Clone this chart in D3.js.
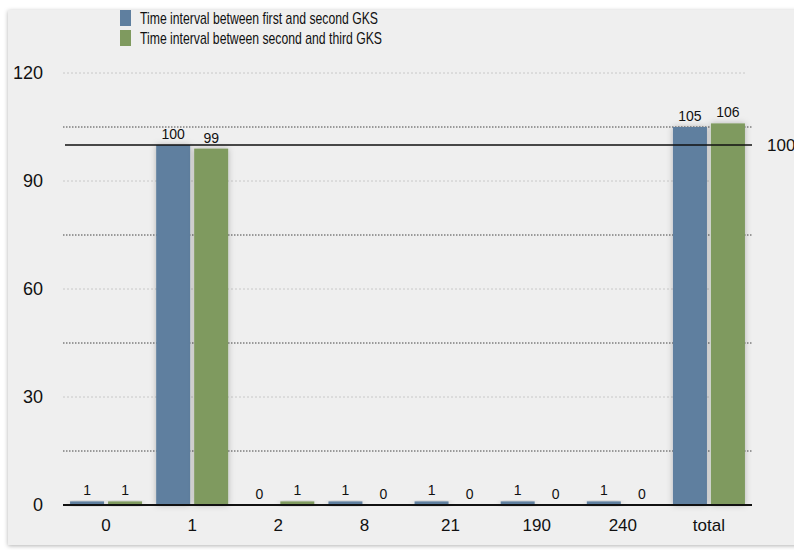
<!DOCTYPE html>
<html><head><meta charset="utf-8">
<script src="https://cdn.jsdelivr.net/npm/d3@7"></script>
<style>body{margin:0;background:#fff;}svg{display:block;}</style>
</head><body>
<script>
const categories = ["0","1","2","8","21","190","240","total"];
const seriesNames = ["Time interval between first and second GKS","Time interval between second and third GKS"];
const firstSecond = [1,100,0,1,1,1,1,105];
const secondThird = [1,99,1,0,0,0,0,106];
const yTicks = [0,30,60,90,120];
const minorTicks = [15,45,75,105];
const refValue = 100;
const colors = ["#5f7f9f","#7f9a5f"];

const W=794,H=550;
const svg=d3.select("body").append("svg").attr("width",W).attr("height",H);
const defs=svg.append("defs");
const f=defs.append("filter").attr("id","sh").attr("x","-30%").attr("y","-30%").attr("width","160%").attr("height","160%");
f.append("feDropShadow").attr("dx",0).attr("dy",0).attr("stdDeviation",3).attr("flood-color","#000").attr("flood-opacity",0.25);
const pf=defs.append("filter").attr("id","psh").attr("x","-5%").attr("y","-5%").attr("width","110%").attr("height","110%");
pf.append("feDropShadow").attr("dx",0).attr("dy",1).attr("stdDeviation",2).attr("flood-color","#000").attr("flood-opacity",0.3);

svg.append("rect").attr("x",8).attr("y",10).attr("width",800).attr("height",535).attr("fill","#efefef").attr("filter","url(#psh)");

const x=d3.scaleBand().domain(categories).range([63,752]).padding(0);
const y=d3.scaleLinear().domain([0,120]).range([505,73]);
const font="'Liberation Sans', Arial, Helvetica, sans-serif";

// gridlines
svg.append("g").selectAll("line").data(yTicks.filter(d=>d>0)).join("line")
 .attr("x1",63).attr("x2",745).attr("y1",d=>y(d)).attr("y2",d=>y(d))
 .attr("stroke","#c8c8c8").attr("stroke-width",1).attr("stroke-dasharray","2,2");
svg.append("g").selectAll("line").data(minorTicks).join("line")
 .attr("x1",63).attr("x2",752).attr("y1",d=>y(d)).attr("y2",d=>y(d))
 .attr("stroke","#444").attr("stroke-width",1).attr("stroke-dasharray","1.5,1.5");

// y labels
svg.append("g").selectAll("text").data(yTicks).join("text")
 .attr("x",43).attr("y",d=>y(d)+6).attr("text-anchor","end")
 .attr("font-family",font).attr("font-size",18).attr("fill","#111").text(d=>d);

// bars
const data=categories.map((c,i)=>({c,v:[firstSecond[i],secondThird[i]]}));
const bw=34, gap=2;
const g=svg.append("g");
data.forEach(d=>{
  const cx=x(d.c)+x.bandwidth()/2;
  d.v.forEach((v,k)=>{
    const bx = k===0 ? cx-gap-bw : cx+gap;
    if(v>0){
      g.append("rect").attr("x",bx).attr("y",y(v)).attr("width",bw).attr("height",y(0)-y(v))
       .attr("fill",colors[k]).attr("filter","url(#sh)");
    }
    g.append("text").attr("x",bx+bw/2).attr("y",y(v)-6).attr("text-anchor","middle")
     .attr("font-family",font).attr("font-size",14).attr("fill","#111").text(v);
  });
});

// baseline
svg.append("line").attr("x1",63).attr("x2",752).attr("y1",y(0)).attr("y2",y(0)).attr("stroke","#111").attr("stroke-width",2);
// reference line
svg.append("line").attr("x1",65).attr("x2",752).attr("y1",y(refValue)).attr("y2",y(refValue)).attr("stroke","#111").attr("stroke-width",1.3);
svg.append("text").attr("x",767).attr("y",y(refValue)+6).attr("font-family",font).attr("font-size",17).attr("fill","#111").text(refValue);

// x labels
svg.append("g").selectAll("text").data(categories).join("text")
 .attr("x",d=>x(d)+x.bandwidth()/2).attr("y",531).attr("text-anchor","middle")
 .attr("font-family",font).attr("font-size",17).attr("fill","#111").text(d=>d);

// legend
const lg=svg.append("g");
seriesNames.forEach((n,i)=>{
  lg.append("rect").attr("x",120).attr("y",10+i*20).attr("width",11).attr("height",16).attr("fill",colors[i]);
  lg.append("text").attr("x",140).attr("y",24+i*20).attr("font-family",font).attr("font-size",17)
   .attr("fill","#111").attr("textLength",i===0?238:242).attr("lengthAdjust","spacingAndGlyphs").text(n);
});
</script>
</body></html>
